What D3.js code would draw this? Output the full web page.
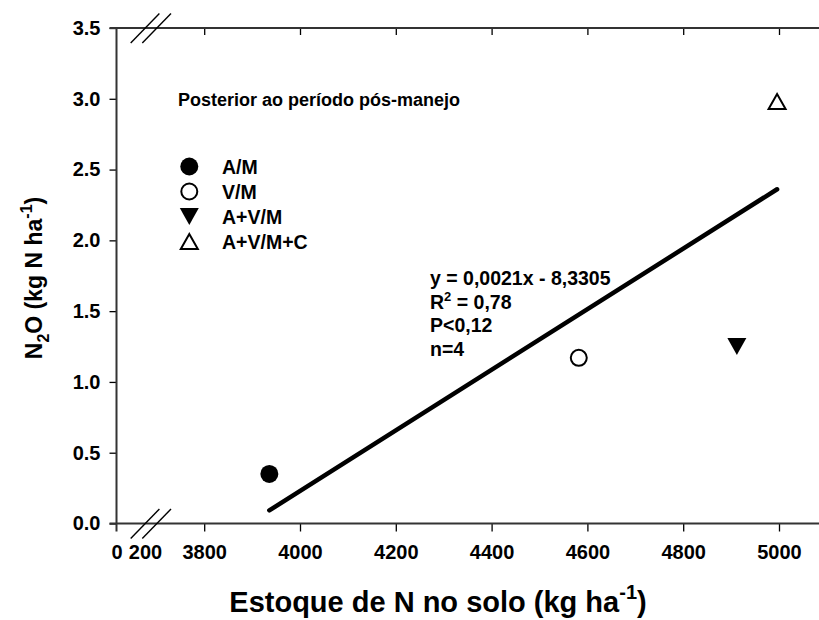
<!DOCTYPE html>
<html>
<head>
<meta charset="utf-8">
<script src="https://cdn.jsdelivr.net/npm/d3@7"></script>
<style>
  body { margin: 0; background: #fff; }
  text { font-family: "Liberation Sans", Arial, sans-serif; font-weight: bold; fill: #000; }
</style>
</head>
<body>
<svg id="chart" width="819" height="620"></svg>
<script>
// Soil N stock vs. cumulative N2O emission, one point per treatment
const treatments = ["A/M", "V/M", "A+V/M", "A+V/M+C"];
const markers = ["circleFilled", "circleOpen", "triangleDownFilled", "triangleUpOpen"];
const nStock = [3936, 4582, 4912, 4996];     // kg ha-1
const n2oEmission = [0.35, 1.17, 1.25, 2.98]; // kg N ha-1

// Linear fit y = a·x + b
const fitSlope = 0.00214;
const fitIntercept = -8.3305;
const fitStats = ["0,78", "P<0,12", "n=4"];

// Broken x axis: a short 0–200 stub, then 3800–5000
const xTicksLow = [0, 200];
const xTicksHigh = [3800, 4000, 4200, 4400, 4600, 4800, 5000];
const yTicks = [0, 0.5, 1.0, 1.5, 2.0, 2.5, 3.0, 3.5];

const svg = d3.select("#chart");
const plotLeft = 116.5, plotTop = 28, plotBottom = 523.5, rightEdge = 819;

const y = d3.scaleLinear().domain([0, 3.5]).range([plotBottom, plotTop]);
const xLow = d3.scaleLinear().domain([0, 200]).range([plotLeft, 145]);
const xHigh = d3.scaleLinear().domain([3800, 5000]).range([204.2, 779]);

const axisColor = "#333";
const tickFont = "20px";

// y axis
const yAxis = svg.append("g")
  .attr("transform", `translate(${plotLeft},0)`)
  .call(d3.axisLeft(y).tickValues(yTicks).tickSize(7).tickPadding(9).tickFormat(d3.format(".1f")));
yAxis.select(".domain").remove();
yAxis.selectAll(".tick line").attr("stroke", "#000").attr("stroke-width", 1.3);
yAxis.selectAll(".tick text").style("font-size", tickFont);

// bottom axis – high segment
const xAxisHigh = svg.append("g")
  .attr("transform", `translate(0,${plotBottom})`)
  .call(d3.axisBottom(xHigh).tickValues(xTicksHigh).tickSize(8).tickPadding(13).tickFormat(d3.format("d")));
xAxisHigh.select(".domain").remove();
xAxisHigh.selectAll(".tick line").attr("stroke", "#000").attr("stroke-width", 1.3);
xAxisHigh.selectAll(".tick text").style("font-size", tickFont);

// bottom axis – low stub
const xAxisLow = svg.append("g")
  .attr("transform", `translate(0,${plotBottom})`)
  .call(d3.axisBottom(xLow).tickValues(xTicksLow).tickSize(0).tickPadding(21).tickFormat(d3.format("d")));
xAxisLow.select(".domain").remove();
xAxisLow.selectAll(".tick line").remove();
xAxisLow.selectAll(".tick text").style("font-size", tickFont);

// top axis – inward ticks, no labels
const xAxisTop = svg.append("g")
  .attr("transform", `translate(0,${plotTop})`)
  .call(d3.axisTop(xHigh).tickValues(xTicksHigh).tickSize(-7).tickFormat(""));
xAxisTop.select(".domain").remove();
xAxisTop.selectAll(".tick line").attr("stroke", "#000").attr("stroke-width", 1.3);

// frame lines
const frame = svg.append("g").attr("stroke", axisColor).attr("stroke-width", 2).attr("fill", "none");
frame.append("line").attr("x1", plotLeft - 7).attr("x2", rightEdge).attr("y1", plotBottom).attr("y2", plotBottom);
frame.append("line").attr("x1", plotLeft - 7).attr("x2", rightEdge).attr("y1", plotTop).attr("y2", plotTop);
frame.append("line").attr("x1", plotLeft).attr("x2", plotLeft).attr("y1", plotTop).attr("y2", plotBottom + 8);

// axis break marks
const breakX = [xLow(200) - 14.3, xLow(200) - 2.7];
[plotTop, plotBottom].forEach(yy => {
  breakX.forEach(bx => {
    svg.append("line")
      .attr("x1", bx).attr("y1", yy + 15)
      .attr("x2", bx + 28.7).attr("y2", yy - 14.5)
      .attr("stroke", "#000").attr("stroke-width", 1.4);
  });
});

// regression line across the observed x range
const xMin = d3.min(nStock), xMax = d3.max(nStock);
svg.append("line")
  .attr("x1", xHigh(xMin)).attr("y1", y(fitSlope * xMin + fitIntercept))
  .attr("x2", xHigh(xMax)).attr("y2", y(fitSlope * xMax + fitIntercept))
  .attr("stroke", "#000").attr("stroke-width", 4.5).attr("stroke-linecap", "round");

// marker drawing, triangles centred on their bounding box
function drawMarker(g, kind, cx, cy) {
  const r = 9, hw = 9.5, hh = 8.5;
  if (kind === "circleFilled") {
    g.append("circle").attr("cx", cx).attr("cy", cy).attr("r", r).attr("fill", "#000");
  } else if (kind === "circleOpen") {
    g.append("circle").attr("cx", cx).attr("cy", cy).attr("r", r - 1).attr("fill", "#fff")
      .attr("stroke", "#000").attr("stroke-width", 2);
  } else if (kind === "triangleDownFilled") {
    const p = d3.path();
    p.moveTo(cx - hw, cy - hh); p.lineTo(cx + hw, cy - hh); p.lineTo(cx, cy + hh); p.closePath();
    g.append("path").attr("d", p.toString()).attr("fill", "#000");
  } else {
    const p = d3.path();
    p.moveTo(cx - hw + 1, cy + hh - 1); p.lineTo(cx + hw - 1, cy + hh - 1); p.lineTo(cx, cy - hh + 1); p.closePath();
    g.append("path").attr("d", p.toString()).attr("fill", "#fff")
      .attr("stroke", "#000").attr("stroke-width", 2).attr("stroke-linejoin", "miter");
  }
}

const pts = svg.append("g");
treatments.forEach((t, i) => drawMarker(pts, markers[i], xHigh(nStock[i]), y(n2oEmission[i])));

// legend
const legend = svg.append("g");
treatments.forEach((t, i) => {
  const ly = 166.5 + i * 25;
  drawMarker(legend, markers[i], 189.3, ly);
  legend.append("text").attr("x", 222).attr("y", ly + 7).style("font-size", "19.5px").text(t);
});

// panel heading
svg.append("text").attr("x", 178).attr("y", 106).style("font-size", "18px")
  .text("Posterior ao período pós-manejo");

// fit equation and statistics
const eq = svg.append("g").style("font-size", "19.5px");
const eqY = 285, eqStep = 23.5, eqX = 430;
const fmt = v => d3.format(".4f")(Math.abs(v)).replace(".", ",");
eq.append("text").attr("x", eqX).attr("y", eqY)
  .text(`y = 0,0021x - ${fmt(fitIntercept)}`);
const r2 = eq.append("text").attr("x", eqX).attr("y", eqY + eqStep);
r2.append("tspan").text("R");
r2.append("tspan").attr("dy", -8).style("font-size", "13px").text("2");
r2.append("tspan").attr("dy", 8).text(" = " + fitStats[0]);
eq.append("text").attr("x", eqX).attr("y", eqY + 2 * eqStep).text(fitStats[1]);
eq.append("text").attr("x", eqX).attr("y", eqY + 3 * eqStep).text(fitStats[2]);

// axis titles
const xt = svg.append("text").attr("x", 438).attr("y", 612).attr("text-anchor", "middle")
  .style("font-size", "29px");
xt.append("tspan").text("Estoque de N no solo (kg ha");
xt.append("tspan").attr("dy", -13).style("font-size", "20px").text("-1");
xt.append("tspan").attr("dy", 13).text(")");

const yt = svg.append("text").attr("transform", "translate(42,278) rotate(-90)")
  .attr("text-anchor", "middle").style("font-size", "23px");
yt.append("tspan").text("N");
yt.append("tspan").attr("dy", 7).style("font-size", "16px").text("2");
yt.append("tspan").attr("dy", -7).text("O (kg N ha");
yt.append("tspan").attr("dy", -10).style("font-size", "16px").text("-1");
yt.append("tspan").attr("dy", 10).text(")");
</script>
</body>
</html>
